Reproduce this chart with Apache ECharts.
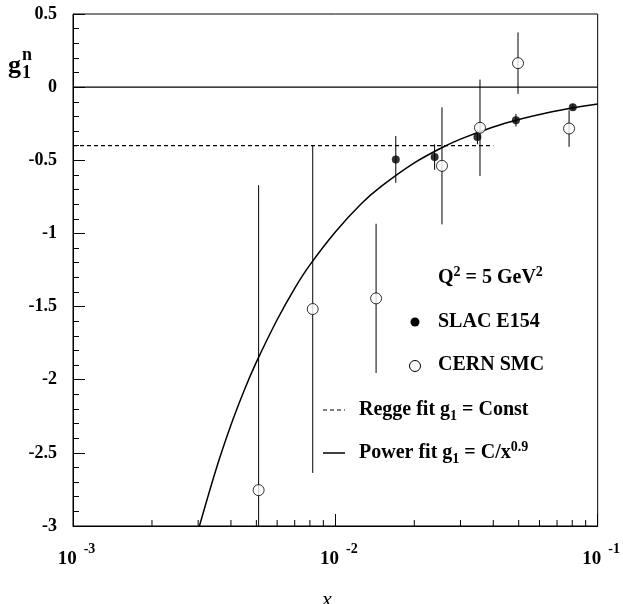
<!DOCTYPE html>
<html>
<head>
<meta charset="utf-8">
<script src="https://cdn.jsdelivr.net/npm/echarts@6/dist/echarts.min.js"></script>
<style>html,body{margin:0;padding:0;background:#fff;}#c{width:623px;height:604px;}</style>
</head>
<body>
<div id="c"></div>
<script>
// ---- data ----
const slacX   = [0.0170, 0.0239, 0.0348, 0.0488, 0.0804];
const slacY   = [-0.494, -0.478, -0.340, -0.226, -0.137];
const slacErr = [0.160, 0.087, 0.050, 0.043, 0.020];

const smcX   = [0.0051, 0.0082, 0.0143, 0.0255, 0.0356, 0.0497, 0.0778];
const smcY   = [-2.755, -1.517, -1.444, -0.538, -0.278, 0.164, -0.283];
const smcErr = [2.085, 1.120, 0.510, 0.400, 0.330, 0.210, 0.125];

// power-fit curve, sampled off the drawn line
const powerFitX = [0.0030, 0.0035, 0.0040, 0.0045, 0.0050, 0.0060, 0.0070, 0.0080, 0.0100, 0.0125, 0.0150, 0.0200, 0.0250, 0.0300, 0.0400, 0.0500, 0.0650, 0.0800, 0.1000];
const powerFitY = [-3.03, -2.62, -2.31, -2.07, -1.88, -1.59, -1.375, -1.215, -0.99, -0.80, -0.677, -0.518, -0.421, -0.355, -0.272, -0.221, -0.173, -0.143, -0.116];

const reggeX = [0.001, 0.04];
const reggeY = [-0.40, -0.40];

const zeroX = [0.001, 0.1];
const zeroY = [0, 0];

const xMin = 0.001, xMax = 0.1;
const yMin = -3, yMax = 0.5;
const minorDecades = [-3, -2];
const minorMult = [2, 3, 4, 5, 6, 7, 8, 9];

// ---- build ----
const FAM = '"Liberation Serif", "Times New Roman", serif';
const zip = (a, b) => a.map((v, i) => [v, b[i]]);
const errData = (xs, ys, es) => xs.map((x, i) => [x, ys[i] - es[i], ys[i] + es[i]]);
const minorTicks = [];
minorDecades.forEach(d => minorMult.forEach(k => minorTicks.push([k * Math.pow(10, d), yMin])));

function errRender(params, api) {
  const cs = params.coordSys;
  const p1 = api.coord([api.value(0), api.value(1)]);
  const p2 = api.coord([api.value(0), api.value(2)]);
  const clamp = v => Math.max(cs.y, Math.min(cs.y + cs.height, v));
  return {
    type: 'line',
    shape: { x1: p1[0], y1: clamp(p1[1]), x2: p2[0], y2: clamp(p2[1]) },
    style: { stroke: '#000', lineWidth: 1 }
  };
}

const chart = echarts.init(document.getElementById('c'), null, { renderer: 'canvas' });

const P = 12;
const mStyle = { font: 'bold 20px ' + FAM, fontSize: 20, fontWeight: 'bold', fontFamily: FAM, fill: '#000', color: '#000', lineHeight: 22 };
const subStyle = { font: 'bold 14px ' + FAM, fontSize: 14, fontWeight: 'bold', fontFamily: FAM, fill: '#000', color: '#000', lineHeight: 14, padding: [P, 0, 0, 0] };
const supStyle = { font: 'bold 14px ' + FAM, fontSize: 14, fontWeight: 'bold', fontFamily: FAM, fill: '#000', color: '#000', lineHeight: 14, padding: [0, 0, P, 0] };
const richLegend = { m: mStyle, b: subStyle, p: supStyle };

function txt(x, y, text) {
  return {
    type: 'text', x: x, y: y, z: 100,
    style: { text: text, rich: richLegend, align: 'left', verticalAlign: 'middle', fill: '#000',
             font: 'bold 20px ' + FAM, fontFamily: FAM, fontWeight: 'bold', fontSize: 20 }
  };
}

const option = {
  animation: false,
  backgroundColor: '#fff',
  grid: { left: 73, right: 24, top: 14, bottom: 78, show: true, borderColor: '#000', borderWidth: 1, backgroundColor: 'transparent' },
  xAxis: {
    type: 'log', logBase: 10, min: xMin, max: xMax,
    axisLine: { show: true, onZero: false, lineStyle: { color: '#000', width: 1 } },
    axisTick: { show: true, inside: true, length: 12, lineStyle: { color: '#000', width: 1 } },
    splitLine: { show: false },
    axisLabel: {
      show: true, margin: 16, showMinLabel: true, showMaxLabel: true,
      formatter: function (v) { const e = Math.round(Math.log10(v)); return '{b|10}{s|' + e + '}'; },
      rich: {
        b: { fontSize: 19, fontWeight: 'bold', fontFamily: FAM, color: '#000', lineHeight: 20, verticalAlign: 'top', padding: [8, 0, 0, 7] },
        s: { fontSize: 14, fontWeight: 'bold', fontFamily: FAM, color: '#000', lineHeight: 14, verticalAlign: 'top', padding: [0, 0, 0, 7] }
      }
    }
  },
  yAxis: {
    type: 'value', min: yMin, max: yMax, interval: 0.5,
    axisLine: { show: true, onZero: false, lineStyle: { color: '#000', width: 1 } },
    axisTick: { show: true, inside: true, length: 12, lineStyle: { color: '#000', width: 1 } },
    minorTick: { show: true, splitNumber: 5, length: 6, lineStyle: { color: '#000', width: 1 } },
    splitLine: { show: false },
    minorSplitLine: { show: false },
    axisLabel: { margin: 16, fontSize: 18, fontWeight: 'bold', fontFamily: FAM, color: '#000' }
  },
  series: [
    { type: 'custom', name: 'minorX', data: minorTicks, z: 1, silent: true,
      renderItem: function (params, api) {
        const p = api.coord([api.value(0), api.value(1)]);
        return { type: 'line', shape: { x1: p[0], y1: p[1], x2: p[0], y2: p[1] - 6 }, style: { stroke: '#000', lineWidth: 1 } };
      } },
    { type: 'line', name: 'zero', data: zip(zeroX, zeroY), showSymbol: false, symbol: 'none', z: 2,
      lineStyle: { color: '#000', width: 1.3 } },
    { type: 'line', name: 'Regge', data: zip(reggeX, reggeY), showSymbol: false, symbol: 'none', z: 2,
      lineStyle: { color: '#000', width: 1.2, type: [4, 3] } },
    { type: 'custom', name: 'slacErr', data: errData(slacX, slacY, slacErr), renderItem: errRender, z: 3 },
    { type: 'custom', name: 'smcErr', data: errData(smcX, smcY, smcErr), renderItem: errRender, z: 3 },
    { type: 'line', name: 'Power', data: zip(powerFitX, powerFitY), showSymbol: false, symbol: 'none', smooth: 0.3, z: 4, clip: true,
      lineStyle: { color: '#000', width: 1.5 } },
    { type: 'scatter', name: 'CERN SMC', data: zip(smcX, smcY), symbol: 'circle', symbolSize: 11, z: 5,
      itemStyle: { color: '#fff', borderColor: '#000', borderWidth: 1 } },
    { type: 'scatter', name: 'SLAC E154', data: zip(slacX, slacY), symbol: 'circle', symbolSize: 8, z: 6,
      itemStyle: { color: '#000' } }
  ],
  graphic: [
    // y-axis title g_1^n
    { type: 'text', x: 8, y: 66, z: 100, style: { text: 'g', font: 'bold 26px ' + FAM, fill: '#000', align: 'left', verticalAlign: 'middle' } },
    { type: 'text', x: 22, y: 55, z: 100, style: { text: 'n', font: 'bold 18px ' + FAM, fill: '#000', align: 'left', verticalAlign: 'middle' } },
    { type: 'text', x: 22, y: 73, z: 100, style: { text: '1', font: 'bold 18px ' + FAM, fill: '#000', align: 'left', verticalAlign: 'middle' } },
    // x-axis title
    { type: 'text', x: 327, y: 600, z: 100, style: { text: 'x', font: 'italic 22px ' + FAM, fill: '#000', align: 'center', verticalAlign: 'middle' } },
    // legend
    txt(438, 278, '{m|Q}{p|2}{m| = 5 GeV}{p|2}'),
    { type: 'circle', z: 100, shape: { cx: 415, cy: 322, r: 4.5 }, style: { fill: '#000' } },
    txt(438, 322, '{m|SLAC E154}'),
    { type: 'circle', z: 100, shape: { cx: 415, cy: 366, r: 5.5 }, style: { fill: '#fff', stroke: '#000', lineWidth: 1 } },
    txt(438, 365, '{m|CERN SMC}'),
    { type: 'line', z: 100, shape: { x1: 323, y1: 410, x2: 345, y2: 410 }, style: { stroke: '#000', lineWidth: 1.2, lineDash: [4, 3] } },
    txt(359, 410, '{m|Regge fit g}{b|1}{m| = Const}'),
    { type: 'line', z: 100, shape: { x1: 323, y1: 453, x2: 345, y2: 453 }, style: { stroke: '#000', lineWidth: 1.5 } },
    txt(359, 453, '{m|Power fit g}{b|1}{m| = C/x}{p|0.9}')
  ]
};
chart.setOption(option);
</script>
</body>
</html>
